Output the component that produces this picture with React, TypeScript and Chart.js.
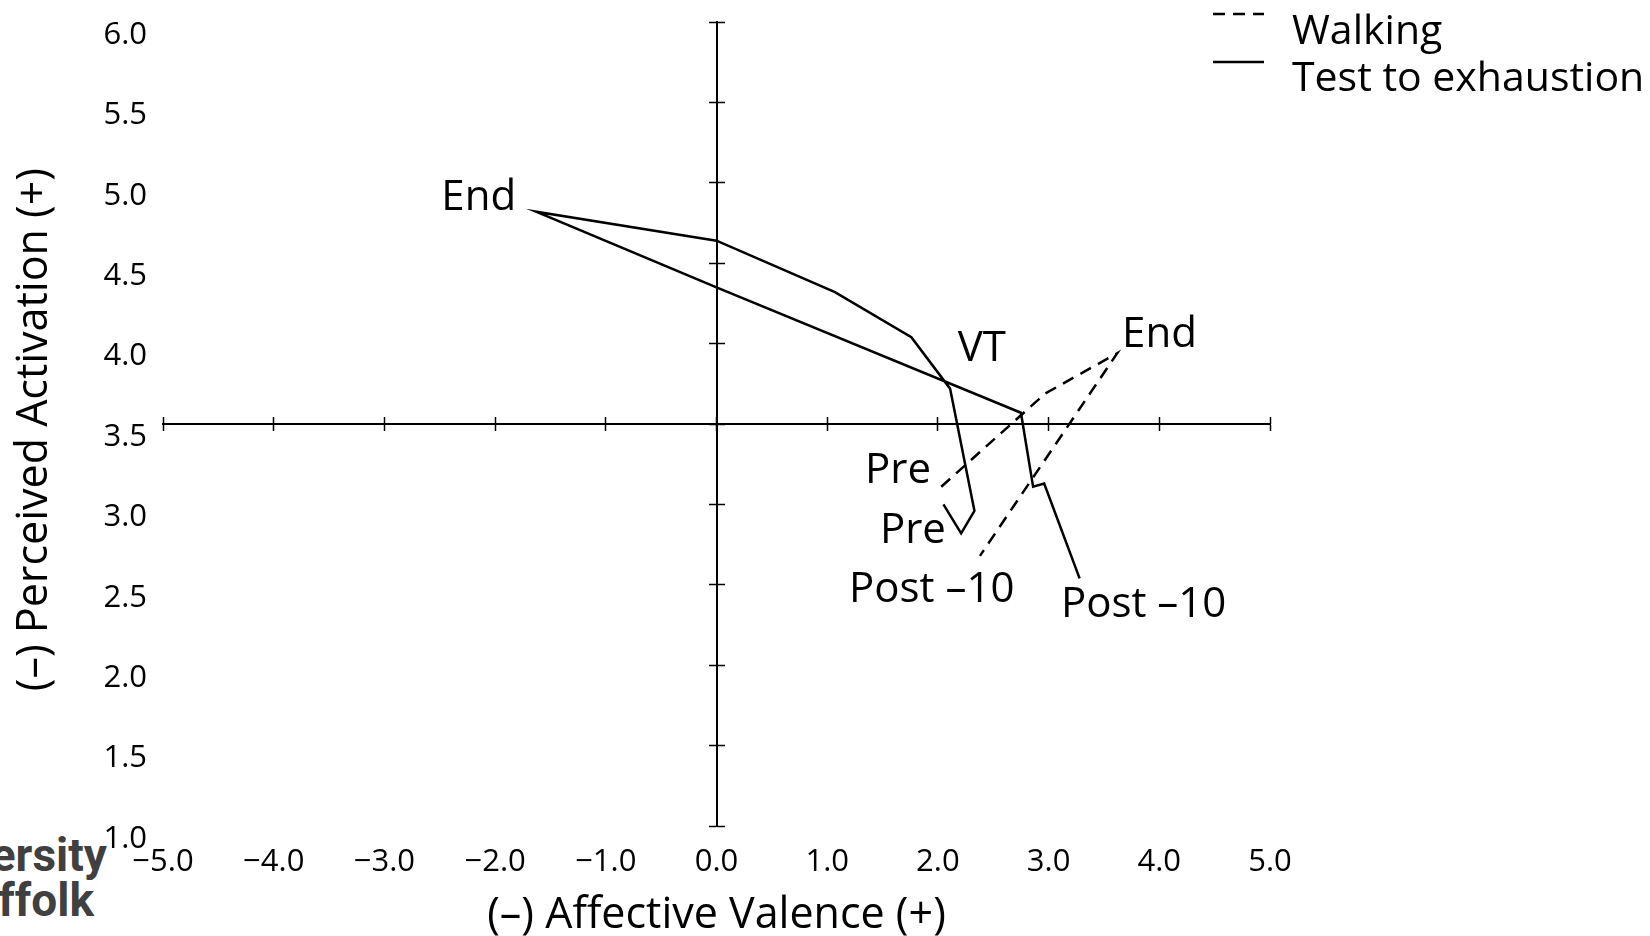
import React, { useEffect, useRef } from "react";
import { Chart, registerables } from "chart.js";

Chart.register(...registerables);

// ---- data ----
const seriesNames = ["Walking", "Test to exhaustion"];

const walkingX = [2.03, 2.97, 3.62, 2.38];
const walkingY = [3.11, 3.69, 3.94, 2.68];

const testX = [2.05, 2.21, 2.33, 2.11, 1.76, 1.07, 0.0, -1.63, 0.0, 2.75, 2.86, 2.96, 3.28];
const testY = [3.0, 2.82, 2.96, 3.72, 4.04, 4.32, 4.64, 4.82, 4.35, 3.57, 3.11, 3.13, 2.54];

const xTickValues = [-5, -4, -3, -2, -1, 0, 1, 2, 3, 4, 5];
const yTickValues = [1, 1.5, 2, 2.5, 3, 3.5, 4, 4.5, 5, 5.5, 6];

const annotationTexts = ["End", "VT", "End", "Pre", "Pre", "Post \u201310", "Post \u201310"];
const annotationX = [-2.486, 2.18, 3.664, 1.341, 1.476, 1.197, 3.111];
const annotationY = [4.83, 3.89, 3.98, 3.136, 2.763, 2.39, 2.297];

const xTitle = "(\u2013) Affective Valence (+)";
const yTitle = "(\u2013) Perceived Activation (+) ";

const FONT = "'Open Sans', sans-serif";

const fmt = (v: number) => {
  const s = Math.abs(v).toFixed(1);
  return v < 0 ? "\u2212" + s : s;
};

const setTicks = (values: number[]) => (scale: any) => {
  scale.ticks = values.map((v) => ({ value: v }));
};

const annotationPlugin = {
  id: "pointLabels",
  afterDatasetsDraw(chart: any) {
    const { ctx, scales } = chart;
    const x = scales.x;
    const y = scales.y;
    ctx.save();
    ctx.font = `42px ${FONT}`;
    ctx.fillStyle = "#000";
    ctx.textAlign = "left";
    ctx.textBaseline = "alphabetic";
    annotationTexts.forEach((t, i) => {
      ctx.fillText(t, x.getPixelForValue(annotationX[i]), y.getPixelForValue(annotationY[i]));
    });
    ctx.restore();
  },
};

const legendPlugin = {
  id: "cornerLegend",
  afterDraw(chart: any) {
    const { ctx } = chart;
    const sampleLeft = 1213;
    const sampleRight = 1264;
    const textLeft = 1292;
    const sampleY = [14, 62];
    const textBase = [44, 91];
    ctx.save();
    chart.data.datasets.forEach((ds: any, i: number) => {
      ctx.beginPath();
      ctx.setLineDash(ds.borderDash || []);
      ctx.lineWidth = ds.borderWidth;
      ctx.strokeStyle = ds.borderColor;
      ctx.moveTo(sampleLeft, sampleY[i]);
      ctx.lineTo(sampleRight, sampleY[i]);
      ctx.stroke();
      ctx.setLineDash([]);
      ctx.font = `41px ${FONT}`;
      ctx.fillStyle = "#000";
      ctx.textAlign = "left";
      ctx.textBaseline = "alphabetic";
      ctx.fillText(ds.label, textLeft, textBase[i]);
    });
    ctx.restore();
  },
};

const axisLine = (axis: "x" | "y", at: any, min: number, max: number, values: number[], tickLength: number, border: boolean) => ({
  type: "linear",
  axis,
  position: at,
  min,
  max,
  afterBuildTicks: setTicks(values),
  afterFit: (s: any) => {
    s.paddingTop = 0;
    s.paddingBottom = 0;
    s.paddingLeft = 0;
    s.paddingRight = 0;
  },
  ticks: { display: false },
  grid: {
    display: true,
    drawOnChartArea: false,
    drawTicks: true,
    tickLength,
    tickWidth: 1.5,
    tickColor: "#000",
    color: "#000",
  },
  border: { display: border, color: "#000", width: 2 },
});

export default function App() {
  const ref = useRef<HTMLCanvasElement>(null);

  useEffect(() => {
    const canvas = ref.current!;
    Chart.defaults.font.family = FONT;
    Chart.defaults.color = "#000";
    const chart = new Chart(canvas, {
      type: "scatter",
      data: {
        datasets: [
          {
            label: seriesNames[0],
            data: walkingX.map((x, i) => ({ x, y: walkingY[i] })),
            showLine: true,
            borderColor: "#000",
            backgroundColor: "#000",
            borderWidth: 2.5,
            borderDash: [12, 8],
            pointRadius: 0,
            fill: false,
            tension: 0,
          },
          {
            label: seriesNames[1],
            data: testX.map((x, i) => ({ x, y: testY[i] })),
            showLine: true,
            borderColor: "#000",
            backgroundColor: "#000",
            borderWidth: 2.5,
            pointRadius: 0,
            fill: false,
            tension: 0,
          },
        ],
      },
      options: {
        responsive: false,
        animation: false,
        layout: { padding: { left: 0, top: 22, right: 380, bottom: 0 } },
        plugins: { legend: { display: false }, tooltip: { enabled: false } },
        scales: {
          x: {
            type: "linear",
            position: "bottom",
            min: -5,
            max: 5,
            afterBuildTicks: setTicks(xTickValues),
            afterFit: (s: any) => {
              s.height = 110;
              s.paddingLeft = 0;
              s.paddingRight = 0;
            },
            grid: { display: false, drawTicks: false },
            border: { display: false },
            ticks: { font: { size: 31 }, color: "#000", padding: 18, maxRotation: 0, autoSkip: false, callback: (v: any) => fmt(Number(v)) },
            title: { display: true, text: xTitle, font: { size: 43 }, color: "#000", padding: { top: 0, bottom: -6 } },
          },
          y: {
            type: "linear",
            position: "left",
            min: 1,
            max: 6,
            afterBuildTicks: setTicks(yTickValues),
            afterFit: (s: any) => {
              s.width = 163;
              s.paddingTop = 0;
              s.paddingBottom = 0;
            },
            grid: { display: false, drawTicks: false },
            border: { display: false },
            ticks: { font: { size: 31 }, color: "#000", padding: 16, labelOffset: 13, autoSkip: false, callback: (v: any) => fmt(Number(v)) },
            title: { display: true, text: yTitle, font: { size: 43 }, color: "#000", padding: { top: 9, bottom: 0 } },
          },
          xLineA: axisLine("x", { y: 3.5 }, -5, 5, xTickValues, 6, true),
          xLineB: axisLine("x", { y: 3.5 }, -5, 5, xTickValues, -7, false),
          yLineA: axisLine("y", { x: 0 }, 1, 6, yTickValues, 7, true),
          yLineB: axisLine("y", { x: 0 }, 1, 6, yTickValues, -8, false),
        } as any,
      },
      plugins: [annotationPlugin, legendPlugin],
    } as any);
    return () => chart.destroy();
  }, []);

  return (
    <div style={{ position: "absolute", left: 0, top: 0, width: 1650, height: 936, overflow: "hidden", background: "#fff" }}>
      <div style={{ position: "absolute", right: 1650 - 107, top: 832, fontFamily: "Roboto", fontWeight: 700, fontSize: 46, lineHeight: "46px", color: "#404040", whiteSpace: "nowrap" }}>University</div>
      <div style={{ position: "absolute", right: 1650 - 94, top: 877, fontFamily: "Roboto", fontWeight: 700, fontSize: 46, lineHeight: "46px", color: "#404040", whiteSpace: "nowrap" }}>of Suffolk</div>
      <canvas ref={ref} width={1650} height={936} style={{ position: "absolute", left: 0, top: 0, width: 1650, height: 936 }} />
    </div>
  );
}
